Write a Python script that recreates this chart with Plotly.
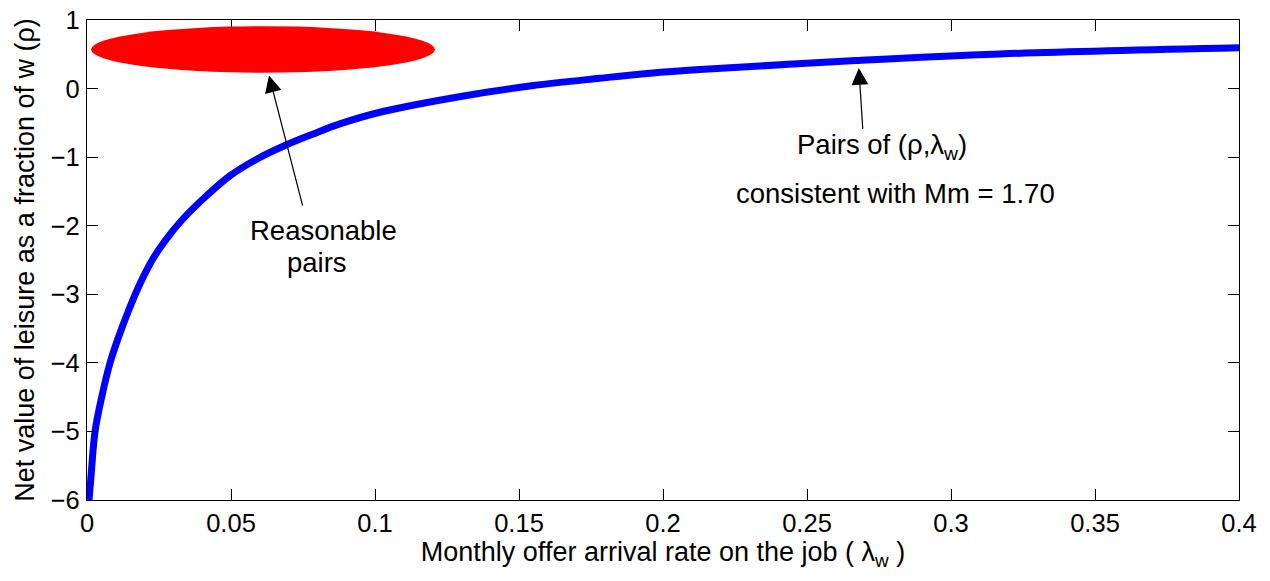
import plotly.graph_objects as go

# Curve: pairs (lambda_w, rho) consistent with Mm = 1.70
lambda_w = [0.0007, 0.0014, 0.0028, 0.0051, 0.0080, 0.0109, 0.0144, 0.0178,
            0.0225, 0.0271, 0.0329, 0.0416, 0.0497, 0.0589, 0.0693, 0.0786,
            0.0878, 0.1017, 0.1318, 0.155, 0.178, 0.1955, 0.2128, 0.267,
            0.317, 0.4]
rho = [-6.0, -5.65, -5.0, -4.5, -4.0, -3.63, -3.24, -2.90,
       -2.51, -2.22, -1.92, -1.56, -1.27, -1.03, -0.82, -0.661,
       -0.515, -0.345, -0.10, 0.044, 0.15, 0.223, 0.277, 0.408,
       0.505, 0.595]

# "Reasonable pairs" region (ellipse bounds, data units)
ellipse_x = [0.0014, 0.1208]
ellipse_y = [0.23, 0.91]

x_ticks = [0, 0.05, 0.1, 0.15, 0.2, 0.25, 0.3, 0.35, 0.4]
x_tick_labels = ["0", "0.05", "0.1", "0.15", "0.2", "0.25", "0.3", "0.35", "0.4"]
y_ticks = [-6, -5, -4, -3, -2, -1, 0, 1]
y_tick_labels = ["\u22126", "\u22125", "\u22124", "\u22123", "\u22122", "\u22121", "0", "1"]

FONT = "Liberation Sans, Arial, Helvetica, sans-serif"
FS_TICK = 25.5
FS_TITLE = 27
FS_TEXT = 27.5

fig = go.Figure()
fig.add_trace(go.Scatter(x=lambda_w, y=rho, mode="lines",
                         line=dict(color="#0000FF", width=7, shape="spline", smoothing=1.0),
                         showlegend=False, hoverinfo="skip"))

fig.add_shape(type="circle", xref="x", yref="y",
              x0=ellipse_x[0], x1=ellipse_x[1], y0=ellipse_y[0], y1=ellipse_y[1],
              fillcolor="#FF0000", line=dict(width=0), layer="above")

# Arrows
fig.add_annotation(x=0.0632, y=0.19, ax=0.0750, ay=-1.73, xref="x", yref="y",
                   axref="x", ayref="y", text="", showarrow=True,
                   arrowhead=2, arrowsize=2.8, arrowwidth=1.2, arrowcolor="black")
fig.add_annotation(x=0.268, y=0.30, ax=0.2694, ay=-0.61, xref="x", yref="y",
                   axref="x", ayref="y", text="", showarrow=True,
                   arrowhead=2, arrowsize=2.8, arrowwidth=1.2, arrowcolor="black")

# Texts
tfont = dict(family=FONT, size=FS_TEXT, color="black")
fig.add_annotation(x=0.0821, y=-2.07, xref="x", yref="y", showarrow=False,
                   text="Reasonable", font=tfont)
fig.add_annotation(x=0.0800, y=-2.54, xref="x", yref="y", showarrow=False,
                   text="pairs", font=tfont)
fig.add_annotation(x=0.2759, y=-0.84, xref="x", yref="y", showarrow=False,
                   text="Pairs of (\u03c1,\u03bb<sub>w</sub>)", font=tfont)
fig.add_annotation(x=0.2809, y=-1.53, xref="x", yref="y", showarrow=False,
                   text="consistent with Mm = 1.70", font=tfont)

axis_common = dict(showline=True, linecolor="black", linewidth=1.2, mirror="ticks",
                   ticks="inside", ticklen=11, tickwidth=1, tickcolor="black",
                   showgrid=False, zeroline=False, ticklabeloverflow="allow",
                   tickfont=dict(family=FONT, size=FS_TICK, color="black"))

fig.update_xaxes(range=[0, 0.4], tickvals=x_ticks, ticktext=x_tick_labels,
                 title=dict(text="Monthly offer arrival rate on the job ( \u03bb<sub>w</sub> )",
                            font=dict(family=FONT, size=FS_TITLE, color="black"), standoff=6),
                 ticklabelstandoff=0, **axis_common)
fig.update_yaxes(range=[-6, 1], tickvals=y_ticks, ticktext=y_tick_labels,
                 title=dict(text="Net value of leisure as a fraction of w (\u03c1)",
                            font=dict(family=FONT, size=FS_TITLE, color="black"), standoff=8),
                 ticklabelstandoff=1, **axis_common)

fig.update_layout(width=1270, height=581, paper_bgcolor="white", plot_bgcolor="white",
                  margin=dict(l=87, r=31, t=20, b=81, autoexpand=False),
                  font=dict(family=FONT, size=FS_TEXT, color="black"))

# remove the default 8px page margin so the figure fills the window exactly
fig.write_html("out.html", config={"displayModeBar": False},
               post_script="document.body.style.margin='0';document.body.style.overflow='hidden';")
